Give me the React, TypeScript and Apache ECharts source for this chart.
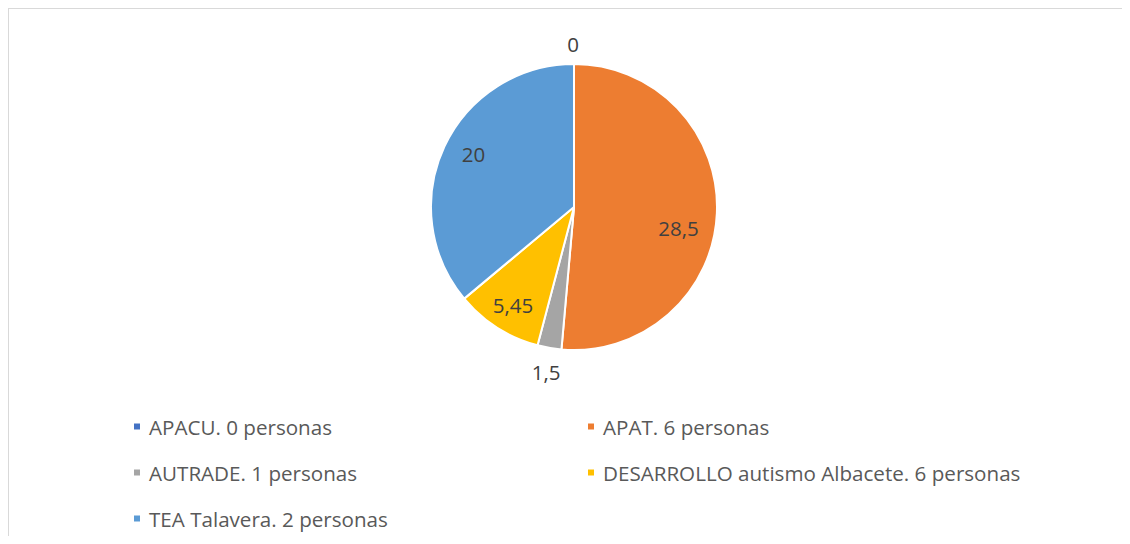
import React, { useEffect, useRef } from "react";
import * as echarts from "echarts";

const categories = [
  "APACU. 0 personas",
  "APAT. 6 personas",
  "AUTRADE. 1 personas",
  "DESARROLLO autismo Albacete. 6 personas",
  "TEA Talavera. 2 personas",
];
const values = [0, 28.5, 1.5, 5.45, 20];
const colors = ["#4472C4", "#ED7D31", "#A5A5A5", "#FFC000", "#5B9BD5"];
// label nudges from the 'inside' anchor, mimicking Excel best-fit placement
const labelOffsets: [number, number][] = [
  [-1, -89],
  [30, 18],
  [-15, 92],
  [-21, 35],
  [-33, -21],
];
const leftLegend = [categories[0], categories[2], categories[4]];
const rightLegend = [categories[1], categories[3]];

const FONT = "'Open Sans', sans-serif";

export default function App() {
  const ref = useRef<HTMLDivElement>(null);
  useEffect(() => {
    if (!ref.current) return;
    const chart = echarts.init(ref.current, undefined, { renderer: "svg" });
    const legendCommon = {
      orient: "vertical" as const,
      top: 407,
      padding: 0,
      height: 120,
      itemWidth: 8,
      itemHeight: 8,
      itemGap: 25,
      icon: "rect",
      selectedMode: false,
      textStyle: {
        color: "#595959",
        fontSize: 20.6,
        fontFamily: FONT,
        lineHeight: 20,
        padding: [0, 0, 0, 3],
      },
    };
    chart.setOption({
      animation: false,
      backgroundColor: "#ffffff",
      color: colors,
      legend: [
        { ...legendCommon, left: 123, data: leftLegend },
        { ...legendCommon, left: 577, data: rightLegend },
      ],
      series: [
        {
          type: "pie",
          center: [565, 198],
          radius: [0, 143],
          startAngle: 90,
          clockwise: true,
          avoidLabelOverlap: false,
          minShowLabelAngle: 0,
          itemStyle: { borderColor: "#ffffff", borderWidth: 2 },
          emphasis: { disabled: true },
          labelLine: { show: false },
          label: {
            show: true,
            position: "inside",
            color: "#404040",
            fontSize: 20.5,
            fontFamily: FONT,
            formatter: (p: any) => String(p.value).replace(".", ","),
          },
          data: categories.map((name, i) => ({
            name,
            value: values[i],
            label: { offset: labelOffsets[i] },
          })),
        },
      ],
    });
    return () => chart.dispose();
  }, []);
  return (
    <div
      style={{
        width: 1114,
        height: 528,
        boxSizing: "border-box",
        borderTop: "1px solid #d9d9d9",
        borderLeft: "1px solid #d9d9d9",
        background: "#fff",
      }}
    >
      <div ref={ref} style={{ width: 1113, height: 527 }} />
    </div>
  );
}
